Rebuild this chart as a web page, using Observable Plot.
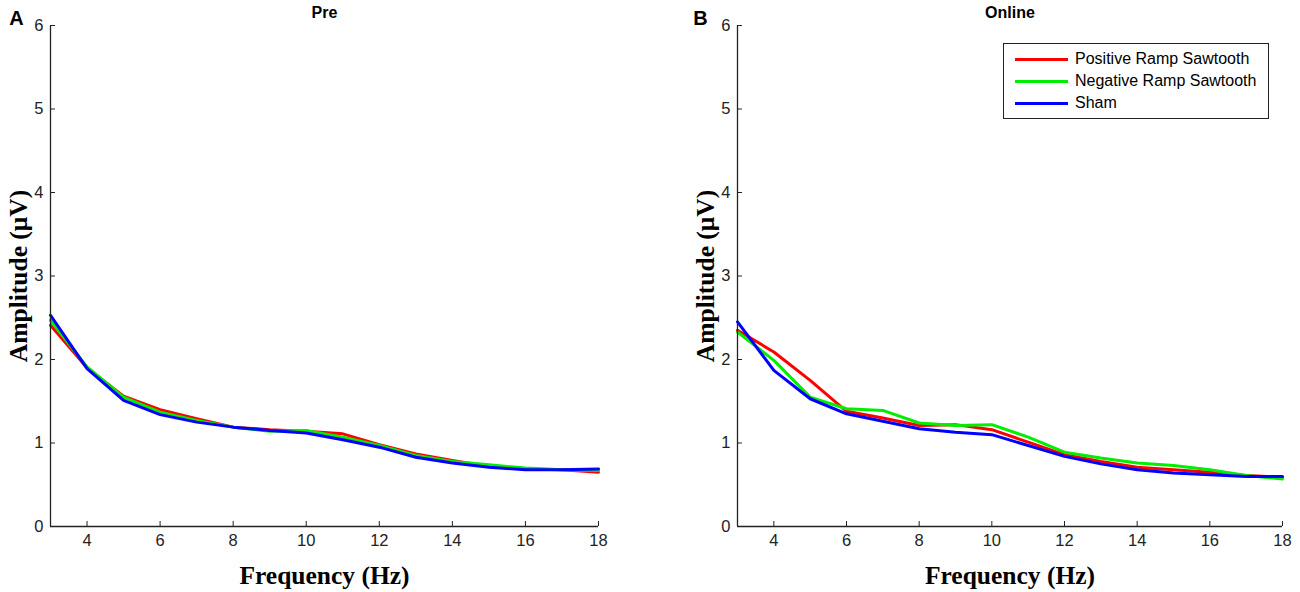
<!DOCTYPE html>
<html><head><meta charset="utf-8">
<script src="https://cdn.jsdelivr.net/npm/d3@7"></script>
<script src="https://cdn.jsdelivr.net/npm/@observablehq/plot@0.6"></script>
<style>
body{margin:0;background:#fff;}
#wrap{position:relative;width:1300px;height:592px;overflow:hidden;}
.panel{position:absolute;top:0;}
#legend{position:absolute;left:1003px;top:43px;width:264px;height:74px;border:1.5px solid #222;background:#fff;font-family:Arial,"Liberation Sans",sans-serif;font-size:16px;color:#000;}
.row{position:absolute;left:0;height:22px;display:flex;align-items:center;}
.sw{display:inline-block;width:53px;height:3px;margin-left:11px;margin-right:7px;}
</style>
</head><body>
<div id="wrap"></div>
<script>
const freqs = [3,4,5,6,7,8,9,10,11,12,13,14,15,16,17,18];
const seriesNames = ["Positive Ramp Sawtooth","Negative Ramp Sawtooth","Sham"];
const seriesColors = ["#ff0000","#00ee00","#0000ff"];
const preRed   = [2.41,1.90,1.56,1.40,1.29,1.19,1.16,1.14,1.11,0.98,0.87,0.79,0.72,0.69,0.68,0.65];
const preGreen = [2.47,1.91,1.55,1.37,1.27,1.19,1.14,1.15,1.07,0.97,0.85,0.78,0.74,0.70,0.68,0.67];
const preBlue  = [2.53,1.89,1.51,1.34,1.25,1.19,1.15,1.12,1.04,0.95,0.83,0.76,0.71,0.68,0.68,0.69];
const onRed    = [2.35,2.09,1.75,1.38,1.30,1.21,1.22,1.16,1.01,0.86,0.78,0.71,0.68,0.65,0.61,0.59];
const onGreen  = [2.33,1.99,1.55,1.41,1.39,1.24,1.21,1.22,1.07,0.89,0.82,0.76,0.73,0.68,0.61,0.57];
const onBlue   = [2.45,1.87,1.53,1.35,1.26,1.17,1.13,1.10,0.97,0.84,0.75,0.68,0.64,0.62,0.60,0.60];
const xTicks = [4,6,8,10,12,14,16,18];
const yTicks = [0,1,2,3,4,5,6];
const xLabel = "Frequency (Hz)";
const yLabel = "Amplitude (\u03bcV)";

function rows(vals){
  const out=[];
  vals.forEach((arr,si)=>arr.forEach((v,i)=>out.push({f:freqs[i],v,s:seriesNames[si]})));
  return out;
}

const serif = "'Liberation Serif','Times New Roman',serif";

function panel({title, letter, data, left, marginLeft, marginRight, letterDx}){
  const svg = Plot.plot({
    width:650, height:592,
    marginLeft, marginRight, marginTop:25, marginBottom:66,
    style:{fontFamily:"Arial, 'Liberation Sans', sans-serif", background:"#fff"},
    x:{domain:[3,18]},
    y:{domain:[0,6]},
    color:{domain:seriesNames, range:seriesColors},
    marks:[
      Plot.line(data,{x:"f",y:"v",z:"s",stroke:"s",strokeWidth:3,strokeLinejoin:"round"}),
      Plot.ruleX([3],{stroke:"#222",strokeWidth:1.3}),
      Plot.ruleY([0],{stroke:"#222",strokeWidth:1.3}),
      Plot.axisX({ticks:xTicks,tickFormat:"d",tickSize:-5,tickPadding:13,fontSize:16.5,label:null,stroke:"#222",color:"#222"}),
      Plot.axisY({ticks:yTicks,tickFormat:"d",tickSize:-5,tickPadding:12,fontSize:16.5,label:null,stroke:"#222",color:"#222"}),
      Plot.text([title],{frameAnchor:"top",dy:-13,lineAnchor:"middle",fontSize:16,fontWeight:"bold",fill:"#000"}),
      Plot.text([letter],{frameAnchor:"top-left",dx:letterDx,dy:-7,lineAnchor:"middle",fontSize:20,fontWeight:"bold",fill:"#000",textAnchor:"middle"}),
      Plot.text([xLabel],{frameAnchor:"bottom",dy:49,lineAnchor:"middle",fontSize:25.5,fontWeight:"bold",fontFamily:serif,fill:"#000",textAnchor:"middle"}),
      Plot.text([yLabel],{frameAnchor:"left",dx:-32,rotate:-90,textAnchor:"middle",fontSize:25.5,fontWeight:"bold",fontFamily:serif,fill:"#000"})
    ]
  });
  svg.classList.add("panel");
  svg.style.left = left+"px";
  document.getElementById("wrap").appendChild(svg);
}

panel({title:"Pre", letter:"A", data:rows([preRed,preGreen,preBlue]), left:0, marginLeft:50, marginRight:52, letterDx:-34});
panel({title:"Online", letter:"B", data:rows([onRed,onGreen,onBlue]), left:650, marginLeft:87, marginRight:18, letterDx:-37});

const lg = document.createElement("div");
lg.id="legend";
seriesNames.forEach((n,i)=>{
  const r=document.createElement("div");
  r.className="row";
  r.style.top=(4+i*22)+"px";
  r.innerHTML=`<span class="sw" style="background:${seriesColors[i]}"></span><span>${n}</span>`;
  lg.appendChild(r);
});
document.getElementById("wrap").appendChild(lg);
</script>
</body></html>
